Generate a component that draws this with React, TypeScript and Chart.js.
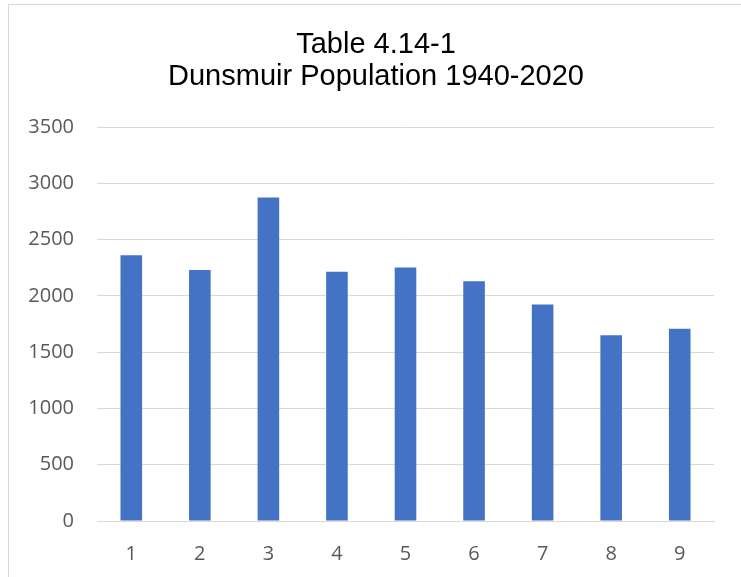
import React, { useEffect, useRef } from "react";
import { Chart, registerables } from "chart.js";

Chart.register(...registerables);

const titleLines = ["Table 4.14-1", "Dunsmuir Population 1940-2020"];
const categories = ["1", "2", "3", "4", "5", "6", "7", "8", "9"];
const population = [2360, 2230, 2873, 2214, 2253, 2129, 1923, 1650, 1707];
const yTicks = [0, 500, 1000, 1500, 2000, 2500, 3000, 3500];

const titlePlugin = {
  id: "boxTitle",
  afterDraw(chart: any) {
    const ctx = chart.ctx;
    ctx.save();
    ctx.fillStyle = "#000000";
    ctx.font = "29px 'Liberation Sans', Arial, sans-serif";
    ctx.textAlign = "center";
    ctx.textBaseline = "middle";
    titleLines.forEach((line, i) => {
      ctx.fillText(line, 376, 45 + i * 32);
    });
    ctx.restore();
  },
};

export default function App() {
  const ref = useRef<HTMLCanvasElement | null>(null);

  useEffect(() => {
    if (!ref.current) return;
    const chart = new Chart(ref.current, {
      type: "bar",
      data: {
        labels: categories,
        datasets: [
          {
            data: population,
            backgroundColor: "#4472C4",
            borderWidth: 0,
            barPercentage: 0.315,
            categoryPercentage: 1,
          },
        ],
      },
      plugins: [titlePlugin],
      options: {
        responsive: false,
        animation: false,
        layout: { padding: { left: 0, right: 27, top: 127, bottom: 0 } },
        plugins: {
          legend: { display: false },
          tooltip: { enabled: false },
          title: { display: false },
        },
        scales: {
          x: {
            grid: { display: false, drawTicks: false },
            border: { display: true, color: "#d9d9d9", width: 1 },
            ticks: {
              color: "#595959",
              font: { family: "'Open Sans', sans-serif", size: 20 },
              padding: 21,
            },
            afterFit: (s: any) => {
              s.height = 56;
            },
          },
          y: {
            min: 0,
            max: 3500,
            afterBuildTicks: (s: any) => {
              s.ticks = yTicks.map((v) => ({ value: v }));
            },
            grid: { color: "#d9d9d9", lineWidth: 1, drawTicks: false },
            border: { display: false },
            ticks: {
              color: "#595959",
              font: { family: "'Open Sans', sans-serif", size: 20 },
              padding: 23,
              callback: (v: any) => String(v),
            },
            afterFit: (s: any) => {
              s.width = 97;
            },
          },
        },
      },
    });
    return () => chart.destroy();
  }, []);

  return (
    <div
      style={{
        position: "fixed",
        left: 0,
        top: 0,
        width: 741,
        height: 577,
        overflow: "hidden",
        background: "#ffffff",
      }}
    >
      <div
        style={{
          position: "absolute",
          left: 8,
          top: 4,
          width: 800,
          height: 700,
          border: "1px solid #d9d9d9",
        }}
      />
      <canvas
        ref={ref}
        width={741}
        height={577}
        style={{ position: "absolute", left: 0, top: 0, width: 741, height: 577 }}
      />
    </div>
  );
}
